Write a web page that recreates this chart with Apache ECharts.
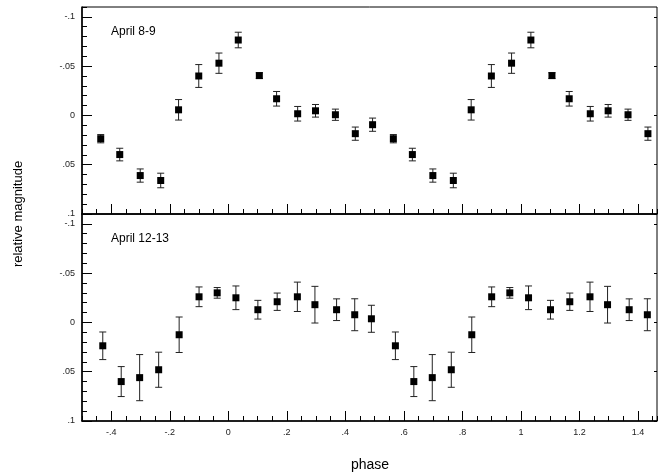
<!DOCTYPE html>
<html>
<head>
<meta charset="utf-8">
<script src="https://cdn.jsdelivr.net/npm/echarts@6/dist/echarts.min.js"></script>
<style>
html, body { margin: 0; padding: 0; background: #fff; }
#chart { width: 659px; height: 475px; }
</style>
</head>
<body>
<div id="chart"></div>
<script>
// one cycle of the folded light curve, plotted at phase and phase + 1
var phase89 = [-0.436, -0.371, -0.301, -0.231, -0.170, -0.101, -0.032, 0.034, 0.106, 0.165, 0.237, 0.298, 0.366, 0.434, 0.493];
var mag89 = [0.0236, 0.0397, 0.061, 0.066, -0.0057, -0.040, -0.053, -0.0765, -0.0404, -0.0169, -0.0017, -0.0047, -0.0007, 0.0185, 0.0094];
var err89 = [0.0042, 0.0064, 0.0067, 0.0074, 0.0104, 0.0116, 0.0103, 0.0079, 0.0029, 0.0074, 0.0074, 0.0064, 0.0057, 0.0067, 0.0067];

var phase1213 = [-0.429, -0.366, -0.303, -0.238, -0.168, -0.100, -0.038, 0.026, 0.101, 0.167, 0.236, 0.296, 0.370, 0.432, 0.489];
var mag1213 = [0.0237, 0.060, 0.056, 0.048, 0.0125, -0.026, -0.030, -0.025, -0.0129, -0.021, -0.026, -0.018, -0.0129, -0.0078, -0.0037];
var err1213 = [0.014, 0.0152, 0.0234, 0.0178, 0.018, 0.010, 0.0054, 0.012, 0.0095, 0.0088, 0.0149, 0.0186, 0.011, 0.0162, 0.0137];

var xTicks = [-0.4, -0.2, 0, 0.2, 0.4, 0.6, 0.8, 1, 1.2, 1.4];
var yTicks = [-0.1, -0.05, 0, 0.05, 0.1];
var panelNames = ['April 8-9', 'April 12-13'];

function folded(ph, mag, err) {
    var out = [];
    for (var k = 0; k < 2; k++) {
        for (var i = 0; i < ph.length; i++) {
            out.push([ph[i] + k, mag[i], err[i]]);
        }
    }
    return out;
}

function fmt(v) {
    if (v === 0) return '0';
    return String(v).replace('0.', '.');
}

var chart = echarts.init(document.getElementById('chart'));
var font = 'Liberation Sans, Arial, sans-serif';
var tops = [7, 214];
var sets = [folded(phase89, mag89, err89), folded(phase1213, mag1213, err1213)];

var grids = [], xAxes = [], yAxes = [], series = [];
tops.forEach(function (top, p) {
    grids.push({ left: 82, right: 2, top: top, height: 207, show: true, borderColor: '#000', borderWidth: 1, backgroundColor: 'transparent' });
    // major x ticks + labels
    xAxes.push({
        gridIndex: p, type: 'value', min: -0.5, max: 1.465, position: 'bottom',
        axisLine: { show: true, onZero: false, lineStyle: { color: '#000', width: 1.5 } },
        axisTick: { show: true, inside: true, length: 10, customValues: xTicks, lineStyle: { color: '#000' } },
        axisLabel: { show: p === 1, customValues: xTicks, formatter: fmt, fontSize: 9, color: '#222', fontFamily: font, margin: 7 },
        splitLine: { show: false }
    });
    // minor x ticks
    xAxes.push({
        gridIndex: p, type: 'value', min: -0.5, max: 1.465, interval: 0.05, position: 'bottom',
        axisLine: { show: false, onZero: false },
        axisTick: { show: true, inside: true, length: 5, lineStyle: { color: '#000' } },
        axisLabel: { show: false }, splitLine: { show: false }
    });
    yAxes.push({
        gridIndex: p, type: 'value', inverse: true, min: -0.11, max: 0.1, position: 'left',
        axisLine: { show: true, onZero: false, lineStyle: { color: '#000', width: 1.5 } },
        axisTick: { show: true, inside: true, length: 10, customValues: yTicks, lineStyle: { color: '#000' } },
        axisLabel: { show: true, customValues: yTicks, formatter: fmt, fontSize: 9, color: '#222', fontFamily: font, margin: 7 },
        splitLine: { show: false }
    });
    yAxes.push({
        gridIndex: p, type: 'value', inverse: true, min: -0.11, max: 0.1, interval: 0.01, position: 'left',
        axisLine: { show: false, onZero: false },
        axisTick: { show: true, inside: true, length: 5, lineStyle: { color: '#000' } },
        axisLabel: { show: false }, splitLine: { show: false }
    });
    yAxes.push({
        gridIndex: p, type: 'value', inverse: true, min: -0.11, max: 0.1, position: 'right',
        axisLine: { show: false, onZero: false },
        axisTick: { show: true, inside: true, length: 3, customValues: yTicks, lineStyle: { color: '#000' } },
        axisLabel: { show: false }, splitLine: { show: false }
    });

    series.push({
        type: 'custom', xAxisIndex: p * 2, yAxisIndex: p * 3,
        data: sets[p], encode: { x: 0, y: 1 }, silent: true,
        renderItem: function (params, api) {
            var x = api.value(0), y = api.value(1), e = api.value(2);
            var a = api.coord([x, y - e]);
            var b = api.coord([x, y + e]);
            var w = 3.5;
            var st = { stroke: '#222', lineWidth: 1 };
            return {
                type: 'group',
                children: [
                    { type: 'line', shape: { x1: a[0], y1: a[1], x2: b[0], y2: b[1] }, style: st },
                    { type: 'line', shape: { x1: a[0] - w, y1: a[1], x2: a[0] + w, y2: a[1] }, style: st },
                    { type: 'line', shape: { x1: b[0] - w, y1: b[1], x2: b[0] + w, y2: b[1] }, style: st }
                ]
            };
        }
    });
    series.push({
        type: 'scatter', xAxisIndex: p * 2, yAxisIndex: p * 3,
        data: sets[p], symbol: 'rect', symbolSize: 7,
        itemStyle: { color: '#000', opacity: 1 }, silent: true
    });
});

var option = {
    backgroundColor: '#fff',
    animation: false,
    grid: grids,
    xAxis: xAxes,
    yAxis: yAxes,
    series: series,
    graphic: [
        { type: 'text', left: 111, top: 26, style: { text: panelNames[0], fontSize: 12, fontFamily: font, fill: '#000' } },
        { type: 'text', left: 111, top: 233, style: { text: panelNames[1], fontSize: 12, fontFamily: font, fill: '#000' } },
        { type: 'text', x: 18, y: 214, rotation: Math.PI / 2, style: { text: 'relative magnitude', fontSize: 13, fontFamily: font, fill: '#000', align: 'center', verticalAlign: 'middle' } },
        { type: 'text', x: 370, y: 465, style: { text: 'phase', fontSize: 14, fontFamily: font, fill: '#000', align: 'center', verticalAlign: 'middle' } }
    ]
};
chart.setOption(option);
window.addEventListener('resize', function () {
    chart.resize();
});
</script>
</body>
</html>
